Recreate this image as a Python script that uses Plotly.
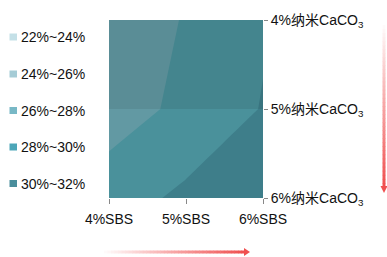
import plotly.graph_objects as go

# ---- data ----
sbs_labels = ["4%SBS", "5%SBS", "6%SBS"]
caco3_labels = ["4%纳米CaCO<sub>3</sub>", "5%纳米CaCO<sub>3</sub>", "6%纳米CaCO<sub>3</sub>"]
# rows: CaCO3 4%,5%,6% ; columns: SBS 4%,5%,6%
z_row_4 = [27.0, 28.1, 29.8]
z_row_5 = [27.0, 28.5, 30.1]
z_row_6 = [29.1, 30.4, 31.0]
band_names = ["22%~24%", "24%~26%", "26%~28%", "28%~30%", "30%~32%"]
legend_colors = ["#c4e0e7", "#a5ccd6", "#78b8c6", "#4ca6b8", "#4a8e9c"]
fill_colors = ["#c4e0e7", "#a5ccd6", "#6299a3", "#4a919b", "#3e7e8a"]

FONT = "Liberation Sans, Arial, Noto Sans CJK SC, sans-serif"

W, H = 387, 257
L, R, T, B = 109, 124, 20, 59
pw, ph = W - L - R, H - T - B

fig = go.Figure()

cs = [
    [0.0, fill_colors[0]], [0.25, fill_colors[0]],
    [0.25, fill_colors[1]], [0.4167, fill_colors[1]],
    [0.4167, fill_colors[2]], [0.5833, fill_colors[2]],
    [0.5833, fill_colors[3]], [0.75, fill_colors[3]],
    [0.75, fill_colors[4]], [1.0, fill_colors[4]],
]

fig.add_trace(go.Contour(
    x=sbs_labels, y=caco3_labels,
    z=[z_row_4, z_row_5, z_row_6],
    autocontour=False,
    contours=dict(start=22, end=32, size=2, coloring="fill", showlines=False),
    line=dict(width=0, smoothing=0),
    colorscale=cs, showscale=False, hoverinfo="skip",
))


def px_to_paper(px, py):
    return (px - L) / pw, (H - B - py) / ph


shapes = []
annotations = []
# facet shading on the upper half
shapes.append(dict(type="rect", xref="paper", yref="paper", x0=0, x1=1, y0=0.5, y1=1,
                   fillcolor="black", opacity=0.08, line=dict(width=0), layer="above"))

# legend (manual, squares + texts)
legend_rows_px = [37, 74, 110.5, 147, 183.5]
for name, col, ry in zip(band_names, legend_colors, legend_rows_px):
    sx0, sy0 = px_to_paper(9.5, ry - 3.5)
    sx1, sy1 = px_to_paper(17, ry + 3.5)
    shapes.append(dict(type="rect", xref="paper", yref="paper", x0=sx0, x1=sx1, y0=sy1, y1=sy0,
                       fillcolor=col, line=dict(width=0)))
    tx, ty = px_to_paper(19.5, ry)
    annotations.append(dict(text=name, xref="paper", yref="paper", x=tx, y=ty,
                            xanchor="left", yanchor="middle", showarrow=False,
                            font=dict(family=FONT, size=14, color="#111111")))


def mix(t):
    # white -> red
    r0, g0, b0 = 255, 255, 255
    r1, g1, b1 = 240, 80, 80
    return "rgb(%d,%d,%d)" % (r0 + (r1 - r0) * t, g0 + (g1 - g0) * t, b0 + (b1 - b0) * t)


# horizontal gradient arrow
N = 40
x_start, x_end, yy = 104, 245, 252
for i in range(N):
    a = x_start + (x_end - x_start) * i / N
    b = x_start + (x_end - x_start) * (i + 1) / N
    x0, y0 = px_to_paper(a, yy)
    x1, _ = px_to_paper(b + 0.5, yy)
    shapes.append(dict(type="line", xref="paper", yref="paper", x0=x0, x1=x1, y0=y0, y1=y0,
                       line=dict(color=mix((i + 1) / N), width=3)))
hx0, hy0 = px_to_paper(244, 248)
hx1, hy1 = px_to_paper(250, 252)
hx2, hy2 = px_to_paper(244, 256)
shapes.append(dict(type="path", xref="paper", yref="paper",
                   path=f"M {hx0} {hy0} L {hx1} {hy1} L {hx2} {hy2} Z",
                   fillcolor=mix(1), line=dict(width=0)))

# vertical gradient arrow
xx, y_start, y_end = 384, 25, 187
for i in range(N):
    a = y_start + (y_end - y_start) * i / N
    b = y_start + (y_end - y_start) * (i + 1) / N
    x0, y0 = px_to_paper(xx, a)
    _, y1 = px_to_paper(xx, b + 0.5)
    shapes.append(dict(type="line", xref="paper", yref="paper", x0=x0, x1=x0, y0=y0, y1=y1,
                       line=dict(color=mix((i + 1) / N), width=3)))
vx0, vy0 = px_to_paper(380.5, 186)
vx1, vy1 = px_to_paper(384, 193)
vx2, vy2 = px_to_paper(387.5, 186)
shapes.append(dict(type="path", xref="paper", yref="paper",
                   path=f"M {vx0} {vy0} L {vx1} {vy1} L {vx2} {vy2} Z",
                   fillcolor=mix(1), line=dict(width=0)))

fig.update_layout(
    width=W, height=H,
    margin=dict(l=L, r=R, t=T, b=B, pad=0, autoexpand=False),
    paper_bgcolor="white", plot_bgcolor="white",
    font=dict(family=FONT, size=14, color="#111111"),
    showlegend=False,
    xaxis=dict(
        type="category", showgrid=False, zeroline=False, showline=False,
        ticks="outside", ticklen=5, tickcolor="#888888", tickwidth=1,
        tickfont=dict(family=FONT, size=14, color="#111111"),
        range=[0, 2], automargin=False, ticklabelstandoff=3,
    ),
    yaxis=dict(
        type="category", side="right", showgrid=False, zeroline=False, showline=False,
        ticks="outside", ticklen=4, tickcolor="#888888", tickwidth=1,
        tickfont=dict(family=FONT, size=14, color="#111111"),
        range=[2, 0], automargin=False,
    ),
    shapes=shapes,
    annotations=annotations,
)

fig.write_html(
    "out.html",
    config={"displayModeBar": False},
    post_script="document.body.style.margin='0';document.body.style.overflow='hidden';",
)
